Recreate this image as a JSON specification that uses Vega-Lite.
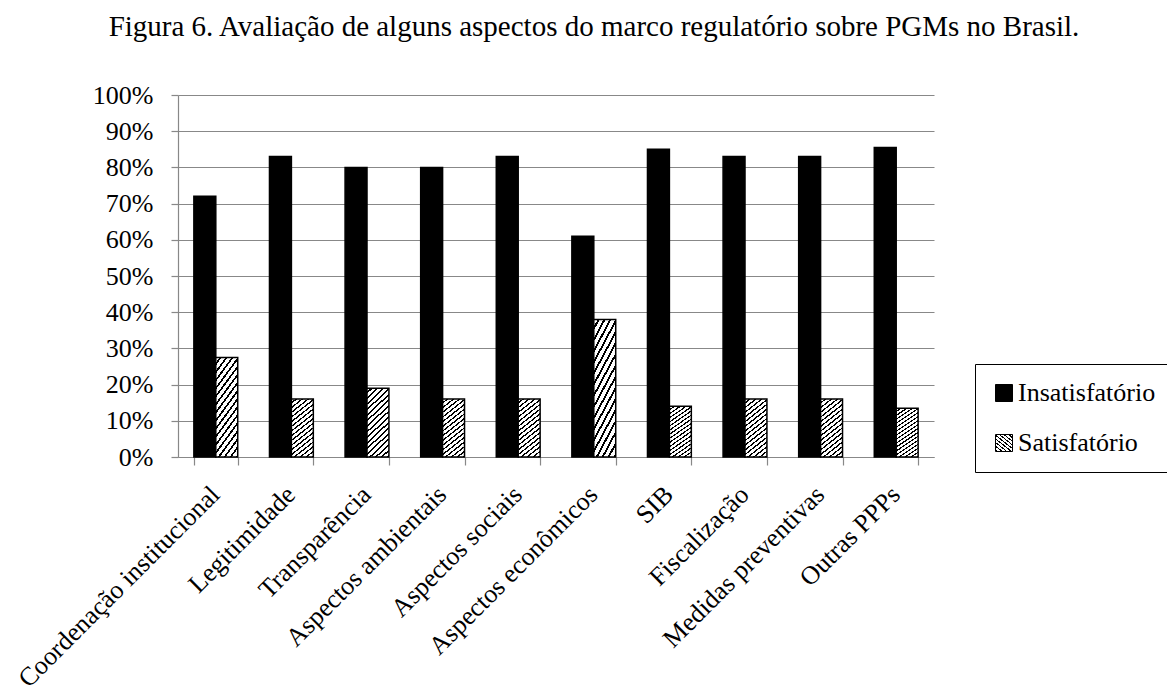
{
  "$schema": "https://vega.github.io/schema/vega-lite/v6.json",
  "autosize": "none",
  "width": 756,
  "height": 362,
  "padding": {"left": 178, "top": 95, "right": 233, "bottom": 238},
  "background": "white",
  "title": {
    "text": "Figura 6. Avaliação de alguns aspectos do marco regulatório sobre PGMs no Brasil.",
    "font": "Liberation Serif",
    "fontSize": 29,
    "fontWeight": "normal",
    "color": "#000000",
    "anchor": "middle",
    "dx": 38,
    "offset": 17,
    "baseline": "alphabetic"
  },
  "data": {
    "values": [
      {"Aspecto": "Coordenação institucional", "Serie": "Insatisfatório", "Valor": 0.72},
      {"Aspecto": "Coordenação institucional", "Serie": "Satisfatório", "Valor": 0.275},
      {"Aspecto": "Legitimidade", "Serie": "Insatisfatório", "Valor": 0.83},
      {"Aspecto": "Legitimidade", "Serie": "Satisfatório", "Valor": 0.16},
      {"Aspecto": "Transparência", "Serie": "Insatisfatório", "Valor": 0.80},
      {"Aspecto": "Transparência", "Serie": "Satisfatório", "Valor": 0.19},
      {"Aspecto": "Aspectos ambientais", "Serie": "Insatisfatório", "Valor": 0.80},
      {"Aspecto": "Aspectos ambientais", "Serie": "Satisfatório", "Valor": 0.16},
      {"Aspecto": "Aspectos sociais", "Serie": "Insatisfatório", "Valor": 0.83},
      {"Aspecto": "Aspectos sociais", "Serie": "Satisfatório", "Valor": 0.16},
      {"Aspecto": "Aspectos econômicos", "Serie": "Insatisfatório", "Valor": 0.61},
      {"Aspecto": "Aspectos econômicos", "Serie": "Satisfatório", "Valor": 0.38},
      {"Aspecto": "SIB", "Serie": "Insatisfatório", "Valor": 0.85},
      {"Aspecto": "SIB", "Serie": "Satisfatório", "Valor": 0.14},
      {"Aspecto": "Fiscalização", "Serie": "Insatisfatório", "Valor": 0.83},
      {"Aspecto": "Fiscalização", "Serie": "Satisfatório", "Valor": 0.16},
      {"Aspecto": "Medidas preventivas", "Serie": "Insatisfatório", "Valor": 0.83},
      {"Aspecto": "Medidas preventivas", "Serie": "Satisfatório", "Valor": 0.16},
      {"Aspecto": "Outras PPPs", "Serie": "Insatisfatório", "Valor": 0.855},
      {"Aspecto": "Outras PPPs", "Serie": "Satisfatório", "Valor": 0.135}
    ]
  },
  "mark": {"type": "bar", "strokeWidth": 1.5},
  "encoding": {
    "x": {
      "field": "Aspecto",
      "type": "nominal",
      "sort": null,
      "scale": {"paddingInner": 0.42, "paddingOuter": 0.21},
      "axis": {
        "title": null,
        "tickBand": "extent",
        "tickSize": 8,
        "tickColor": "#888888",
        "domainColor": "#888888",
        "labelAngle": -45,
        "labelFont": "Liberation Serif",
        "labelFontSize": 26,
        "labelColor": "#000000",
        "labelPadding": 16,
        "labelOffset": -10,
        "labelLimit": 0,
        "labelOverlap": false,
        "grid": false
      }
    },
    "xOffset": {"field": "Serie", "type": "nominal", "sort": ["Insatisfatório", "Satisfatório"]},
    "y": {
      "field": "Valor",
      "type": "quantitative",
      "scale": {"domain": [0, 1], "nice": false},
      "axis": {
        "title": null,
        "values": [0, 0.1, 0.2, 0.3, 0.4, 0.5, 0.6, 0.7, 0.8, 0.9, 1],
        "format": ".0%",
        "tickSize": 7,
        "tickColor": "#888888",
        "domainColor": "#888888",
        "gridColor": "#888888",
        "gridWidth": 1.2,
        "labelFont": "Liberation Serif",
        "labelFontSize": 26,
        "labelColor": "#000000",
        "labelPadding": 18
      }
    },
    "stroke": {
      "field": "Serie",
      "type": "nominal",
      "sort": ["Insatisfatório", "Satisfatório"],
      "scale": {"domain": ["Insatisfatório", "Satisfatório"], "range": ["#000000", "#000000"]}
    },
    "color": {
      "field": "Serie",
      "type": "nominal",
      "sort": ["Insatisfatório", "Satisfatório"],
      "scale": {
        "domain": ["Insatisfatório", "Satisfatório"],
        "range": [
          "#000000",
          {"expr": "{gradient: 'linear', x1: 0, y1: 0, x2: 0.357, y2: 1.19, stops: [{offset: 0, color: '#ffffff'}, {offset: 0.0406, color: '#ffffff'}, {offset: 0.0406, color: '#000000'}, {offset: 0.0625, color: '#000000'}, {offset: 0.0625, color: '#ffffff'}, {offset: 0.1031, color: '#ffffff'}, {offset: 0.1031, color: '#000000'}, {offset: 0.125, color: '#000000'}, {offset: 0.125, color: '#ffffff'}, {offset: 0.1656, color: '#ffffff'}, {offset: 0.1656, color: '#000000'}, {offset: 0.1875, color: '#000000'}, {offset: 0.1875, color: '#ffffff'}, {offset: 0.2281, color: '#ffffff'}, {offset: 0.2281, color: '#000000'}, {offset: 0.25, color: '#000000'}, {offset: 0.25, color: '#ffffff'}, {offset: 0.2906, color: '#ffffff'}, {offset: 0.2906, color: '#000000'}, {offset: 0.3125, color: '#000000'}, {offset: 0.3125, color: '#ffffff'}, {offset: 0.3531, color: '#ffffff'}, {offset: 0.3531, color: '#000000'}, {offset: 0.375, color: '#000000'}, {offset: 0.375, color: '#ffffff'}, {offset: 0.4156, color: '#ffffff'}, {offset: 0.4156, color: '#000000'}, {offset: 0.4375, color: '#000000'}, {offset: 0.4375, color: '#ffffff'}, {offset: 0.4781, color: '#ffffff'}, {offset: 0.4781, color: '#000000'}, {offset: 0.5, color: '#000000'}, {offset: 0.5, color: '#ffffff'}, {offset: 0.5406, color: '#ffffff'}, {offset: 0.5406, color: '#000000'}, {offset: 0.5625, color: '#000000'}, {offset: 0.5625, color: '#ffffff'}, {offset: 0.6031, color: '#ffffff'}, {offset: 0.6031, color: '#000000'}, {offset: 0.625, color: '#000000'}, {offset: 0.625, color: '#ffffff'}, {offset: 0.6656, color: '#ffffff'}, {offset: 0.6656, color: '#000000'}, {offset: 0.6875, color: '#000000'}, {offset: 0.6875, color: '#ffffff'}, {offset: 0.7281, color: '#ffffff'}, {offset: 0.7281, color: '#000000'}, {offset: 0.75, color: '#000000'}, {offset: 0.75, color: '#ffffff'}, {offset: 0.7906, color: '#ffffff'}, {offset: 0.7906, color: '#000000'}, {offset: 0.8125, color: '#000000'}, {offset: 0.8125, color: '#ffffff'}, {offset: 0.8531, color: '#ffffff'}, {offset: 0.8531, color: '#000000'}, {offset: 0.875, color: '#000000'}, {offset: 0.875, color: '#ffffff'}, {offset: 0.9156, color: '#ffffff'}, {offset: 0.9156, color: '#000000'}, {offset: 0.9375, color: '#000000'}, {offset: 0.9375, color: '#ffffff'}, {offset: 0.9781, color: '#ffffff'}, {offset: 0.9781, color: '#000000'}, {offset: 1, color: '#000000'}]}"}
        ]
      },
      "legend": {
        "title": null,
        "orient": "none",
        "legendX": 797,
        "legendY": 269,
        "direction": "vertical",
        "fillColor": "#ffffff",
        "strokeColor": "#000000",
        "padding": 16,
        "symbolType": "square",
        "symbolSize": 289,
        "symbolStrokeWidth": 1,
        "symbolOpacity": 1,
        "labelFont": "Liberation Serif",
        "labelFontSize": 26,
        "labelColor": "#000000",
        "labelOffset": 1,
        "labelLimit": 0,
        "rowPadding": 24
      }
    }
  },
  "config": {
    "view": {"stroke": null},
    "axis": {"domainWidth": 1.2, "tickWidth": 1.2}
  }
}
